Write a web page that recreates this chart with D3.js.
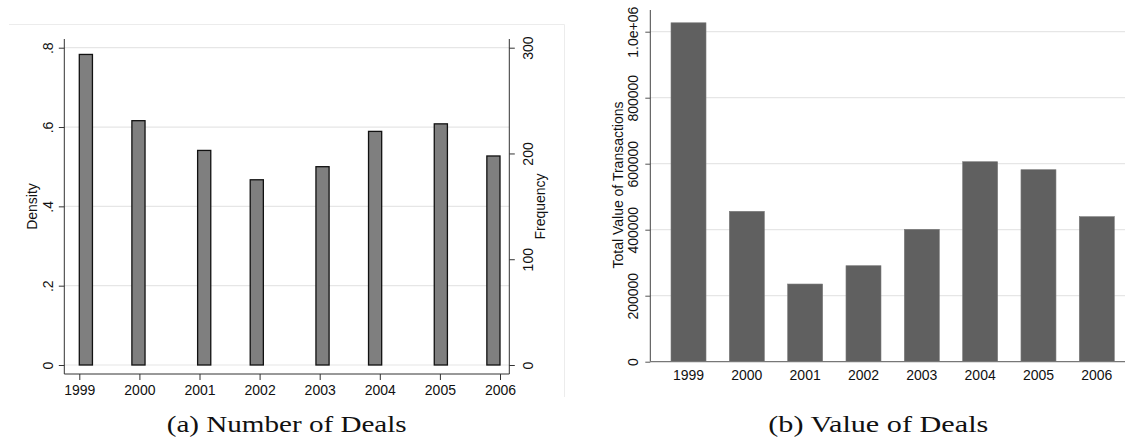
<!DOCTYPE html>
<html>
<head>
<meta charset="utf-8">
<script src="https://cdn.jsdelivr.net/npm/d3@7"></script>
<style>
  html, body { margin: 0; padding: 0; background: #fff; }
  svg { display: block; }
  text { font-family: "Liberation Sans", Arial, sans-serif; fill: #111; }
  .cap { font-family: "Liberation Serif", "Times New Roman", serif; }
</style>
</head>
<body>
<svg id="chart" width="1125" height="441"></svg>
<script>
// ---------- data ----------
const years = [1999, 2000, 2001, 2002, 2003, 2004, 2005, 2006];
const density = [0.783, 0.616, 0.541, 0.467, 0.500, 0.589, 0.608, 0.527];
const densityTicks = [0, 0.2, 0.4, 0.6, 0.8];
const freqTicks = [0, 100, 200, 300];
const freqAtTopDensity = 300;           // right axis value aligned with density .8
const histBins = 32;                    // histogram bins across 1999–2006
const totalValue = [1027000, 455700, 235400, 290900, 401200, 606000, 581800, 439400];
const valueTicks = [0, 200000, 400000, 600000, 800000, 1000000];
const valueTickLabels = ["0", "200000", "400000", "600000", "800000", "1.0e+06"];
const captionA = "(a) Number of Deals";
const captionB = "(b) Value of Deals";

const svg = d3.select("#chart");

// ---------- panel (a) ----------
const A = { left: 64.3, right: 509.3, y0: 365, yTop: 47.7, axisY: 374, axisTop: 39 };
const xA = d3.scaleLinear().domain([years[0], years[years.length - 1]]).range([79.3, 500]);
const yD = d3.scaleLinear().domain([0, 0.8]).range([A.y0, A.yTop]);
const yF = d3.scaleLinear().domain([0, freqAtTopDensity]).range([A.y0, A.yTop]);
const binW = (years[years.length - 1] - years[0]) / histBins;

// faint graph-region frame
svg.append("path")
  .attr("d", `M9,24.5 H564.5 V397`)
  .attr("fill", "none").attr("stroke", "#ececec").attr("stroke-width", 1);

const gA = svg.append("g");
gA.selectAll("line.grid").data(densityTicks).join("line")
  .attr("x1", A.left).attr("x2", A.right)
  .attr("y1", d => yD(d)).attr("y2", d => yD(d))
  .attr("stroke", "#e6e6e6").attr("stroke-width", 1.2);

gA.selectAll("rect.bar").data(years).join("rect")
  .attr("class", "bar")
  .attr("x", (d) => {
    const idx = Math.min(histBins - 1, Math.floor((d - years[0]) / binW + 1e-9));
    return xA(years[0] + idx * binW);
  })
  .attr("width", xA(years[0] + binW) - xA(years[0]))
  .attr("y", (d, i) => yD(density[i]))
  .attr("height", (d, i) => yD(0) - yD(density[i]))
  .attr("fill", "#7f7f7f").attr("stroke", "#111").attr("stroke-width", 1.3);

// axis lines
gA.append("line").attr("x1", A.left).attr("x2", A.left).attr("y1", A.axisTop).attr("y2", A.axisY)
  .attr("stroke", "#333").attr("stroke-width", 1);
gA.append("line").attr("x1", A.right).attr("x2", A.right).attr("y1", A.axisTop).attr("y2", A.axisY)
  .attr("stroke", "#333").attr("stroke-width", 1);
gA.append("line").attr("x1", A.left).attr("x2", A.right).attr("y1", A.axisY).attr("y2", A.axisY)
  .attr("stroke", "#333").attr("stroke-width", 1);

const densFmt = v => v === 0 ? "0" : String(+v.toFixed(1)).replace(/^0/, "");

function styleRotated(g, offset) {
  g.select(".domain").remove();
  g.selectAll(".tick line").attr("stroke", "#333");
  g.selectAll(".tick text")
    .attr("transform", "rotate(-90)")
    .attr("x", 0).attr("y", offset).attr("dy", null)
    .attr("text-anchor", "middle").attr("dominant-baseline", "central")
    .style("font-size", "14px").style("fill", "#111");
}

gA.append("g").attr("transform", `translate(${A.left},0)`)
  .call(d3.axisLeft(yD).tickValues(densityTicks).tickFormat(densFmt).tickSize(5.5).tickSizeOuter(0))
  .call(g => styleRotated(g, -16.6));

gA.append("g").attr("transform", `translate(${A.right},0)`)
  .call(d3.axisRight(yF).tickValues(freqTicks).tickFormat(d3.format("d")).tickSize(5.5).tickSizeOuter(0))
  .call(g => styleRotated(g, 19));

gA.append("g").attr("transform", `translate(0,${A.axisY})`)
  .call(d3.axisBottom(xA).tickValues(years).tickFormat(d3.format("d")).tickSize(6).tickSizeOuter(0))
  .call(g => {
    g.select(".domain").remove();
    g.selectAll(".tick line").attr("stroke", "#333");
    g.selectAll(".tick text").attr("y", 16).attr("dy", null)
      .attr("dominant-baseline", "central").style("font-size", "14px").style("fill", "#111");
  });

gA.append("text").attr("transform", "translate(31.7,206.5) rotate(-90)")
  .attr("text-anchor", "middle").attr("dominant-baseline", "central")
  .style("font-size", "14px").text("Density");
gA.append("text").attr("transform", "translate(540,206.5) rotate(-90)")
  .attr("text-anchor", "middle").attr("dominant-baseline", "central")
  .style("font-size", "14px").text("Frequency");

// ---------- panel (b) ----------
const B = { left: 650.3, right: 1135, axisY: 361.7, axisTop: 10 };
const xB = d3.scaleBand().domain(years).range([B.left, B.right]).paddingInner(0.4).paddingOuter(0.355);
const yV = d3.scaleLinear().domain([0, 1000000]).range([B.axisY, 31.7]);

const gB = svg.append("g");
gB.selectAll("line.grid").data(valueTicks.slice(1)).join("line")
  .attr("x1", B.left).attr("x2", 1125)
  .attr("y1", d => yV(d)).attr("y2", d => yV(d))
  .attr("stroke", "#e6e6e6").attr("stroke-width", 1.2);

gB.selectAll("rect.bar").data(years).join("rect")
  .attr("x", d => xB(d))
  .attr("width", xB.bandwidth())
  .attr("y", (d, i) => yV(totalValue[i]))
  .attr("height", (d, i) => yV(0) - yV(totalValue[i]))
  .attr("fill", "#606060").attr("stroke", "#7a7a7a").attr("stroke-width", 0.6);

gB.append("line").attr("x1", B.left).attr("x2", B.left).attr("y1", B.axisTop).attr("y2", B.axisY)
  .attr("stroke", "#444").attr("stroke-width", 1);
gB.append("line").attr("x1", B.left).attr("x2", 1125).attr("y1", B.axisY).attr("y2", B.axisY)
  .attr("stroke", "#777").attr("stroke-width", 1.2);

gB.append("g").attr("transform", `translate(${B.left},0)`)
  .call(d3.axisLeft(yV).tickValues(valueTicks).tickFormat((d, i) => valueTickLabels[i]).tickSize(5).tickSizeOuter(0))
  .call(g => {
    styleRotated(g, -17);
    g.selectAll(".tick line").attr("stroke", "#555");
  });

gB.append("g").attr("transform", `translate(0,${B.axisY})`)
  .call(d3.axisBottom(xB).tickFormat(d3.format("d")).tickSize(0).tickSizeOuter(0))
  .call(g => {
    g.select(".domain").remove();
    g.selectAll(".tick text").attr("y", 13.5).attr("dy", null)
      .attr("dominant-baseline", "central").style("font-size", "14px").style("fill", "#111");
  });

gB.append("text").attr("transform", "translate(617.7,185) rotate(-90)")
  .attr("text-anchor", "middle").attr("dominant-baseline", "central")
  .style("font-size", "14px").text("Total Value of Transactions");

// ---------- captions ----------
svg.append("text").attr("class", "cap").attr("x", 166.7).attr("y", 432.3)
  .attr("textLength", 240).attr("lengthAdjust", "spacingAndGlyphs")
  .style("font-size", "24px").text(captionA);
svg.append("text").attr("class", "cap").attr("x", 768.3).attr("y", 432.3)
  .attr("textLength", 220).attr("lengthAdjust", "spacingAndGlyphs")
  .style("font-size", "24px").text(captionB);
</script>
</body>
</html>
